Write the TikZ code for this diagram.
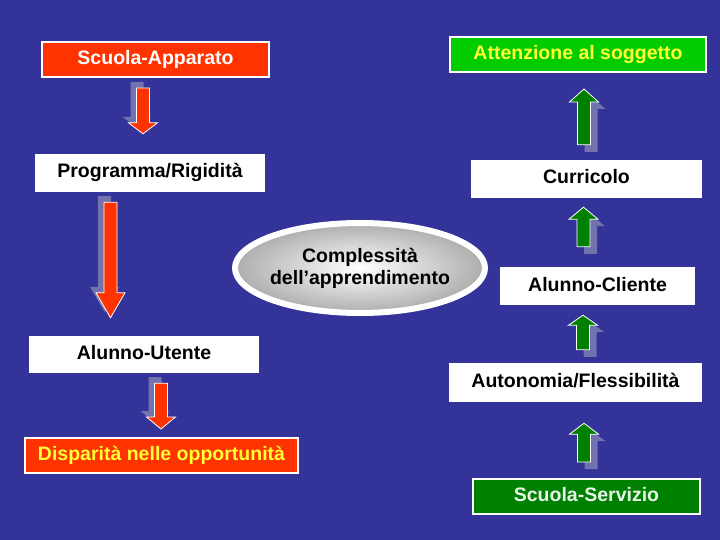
\documentclass[tikz,border=0pt]{standalone}
\usepackage{fontspec}
\setmainfont{Liberation Sans}
\usetikzlibrary{calc}
\usetikzlibrary{shapes.geometric}
\definecolor{bgblue}{HTML}{333399}
\definecolor{boxred}{HTML}{FF3300}
\definecolor{boxgreen}{HTML}{00CC00}
\definecolor{darkgreen}{HTML}{008000}
\definecolor{boxyellow}{HTML}{FFFF33}
\definecolor{palegreen}{HTML}{E8F5E8}
\definecolor{shadowblue}{HTML}{7272AE}

\tikzset{
 box/.style={rectangle, inner sep=0, font=\bfseries\fontsize{19.5}{22}\selectfont, text height=14pt, text depth=4pt},
 plainbox/.style={box, fill=white, text=black},
 redbox/.style={box, fill=boxred, draw=white, line width=2pt},
 greenbox/.style={box, fill=#1, draw=white, line width=2pt},
}

\newcommand{\blockarrow}[5]{%
 \coordinate (bah) at ($(#4)!#5!(#3)$);
 \begin{scope}[transform canvas={shift={#2}}]
 \fill[shadowblue] ($(#3)!6.5pt!90:(#4)$) -- ($(bah)!6.5pt!-90:(#3)$) -- ($(bah)!14.5pt!-90:(#3)$) -- (#4)
   -- ($(bah)!14.5pt!90:(#3)$) -- ($(bah)!6.5pt!90:(#3)$) -- ($(#3)!6.5pt!-90:(#4)$) -- cycle;
 \end{scope}
 \draw[white, line width=.8pt, fill=#1] ($(#3)!6.5pt!90:(#4)$) -- ($(bah)!6.5pt!-90:(#3)$) -- ($(bah)!14.5pt!-90:(#3)$) -- (#4)
   -- ($(bah)!14.5pt!90:(#3)$) -- ($(bah)!6.5pt!90:(#3)$) -- ($(#3)!6.5pt!-90:(#4)$) -- cycle;
}

\begin{document}
\begin{tikzpicture}[x=1pt, y=-1pt]
\fill[bgblue] (0,0) rectangle (720,540);
\useasboundingbox (0,0) rectangle (720,540);

\node[redbox, text=white, minimum width=227pt, minimum height=35pt] (sa) at (155.5,59.5) {Scuola-Apparato};
\node[plainbox, minimum width=230pt, minimum height=38pt] (pr) at (150,173) {Programma/Rigidità};
\node[plainbox, minimum width=230pt, minimum height=37pt] (au) at (144,354.5) {Alunno-Utente};
\node[redbox, text=boxyellow, minimum width=273pt, minimum height=35pt] (dp) at (161.5,455.5) {Disparità nelle opportunità};

\node[greenbox=boxgreen, text=boxyellow, minimum width=256pt, minimum height=35pt] (at) at (578,54.5) {Attenzione al soggetto};
\node[plainbox, minimum width=231pt, minimum height=38pt] (cu) at (586.5,179) {Curricolo};
\node[plainbox, minimum width=195pt, minimum height=38pt] (ac) at (597.5,286) {Alunno-Cliente};
\node[plainbox, minimum width=253pt, minimum height=39pt] (af) at (575.5,382.5) {Autonomia/Flessibilità};
\node[greenbox=darkgreen, text=palegreen, minimum width=227pt, minimum height=35pt] (ss) at (586.5,496.5) {Scuola-Servizio};

\node[ellipse, draw=white, line width=6pt, inner color=white, outer color=black!32, inner sep=0,
 minimum width=250pt, minimum height=90pt] (cx) at (360,268) {};
\node[align=center, text=black, font=\bfseries\fontsize{19.5}{22}\selectfont] (cxt) at (cx) {Complessità\\dell’apprendimento};

\coordinate (r1a) at ($(sa.south)+(-12.5,10)$);
\coordinate (r1b) at ($(pr.north)+(-7,-20)$);
\coordinate (r2a) at ($(pr.south)+(-39.5,10)$);
\coordinate (r2b) at ($(au.north)+(-33.5,-18)$);
\coordinate (r3a) at ($(au.south)+(17,10)$);
\coordinate (r3b) at ($(dp.north)+(-0.5,-8)$);
\coordinate (g1a) at ($(cu.north)+(-2.5,-15)$);
\coordinate (g1b) at ($(at.south)+(6,16)$);
\coordinate (g2a) at ($(ac.north)+(-14,-20)$);
\coordinate (g2b) at ($(cu.south)+(-3,9)$);
\coordinate (g3a) at ($(af.north)+(7.5,-13)$);
\coordinate (g3b) at ($(ac.south)+(-14.5,10)$);
\coordinate (g4a) at ($(ss.north)+(-2.5,-16)$);
\coordinate (g4b) at ($(af.south)+(8.5,21)$);

\blockarrow{boxred}{(-6,-6)}{r1a}{r1b}{11pt}
\blockarrow{boxred}{(-6,-6)}{r2a}{r2b}{25pt}
\blockarrow{boxred}{(-6,-6)}{r3a}{r3b}{12pt}
\foreach \g/\l in {g1/13pt, g2/12pt, g3/10pt, g4/11pt}
 \blockarrow{darkgreen}{(7,7)}{\g a}{\g b}{\l};
\end{tikzpicture}
\end{document}
